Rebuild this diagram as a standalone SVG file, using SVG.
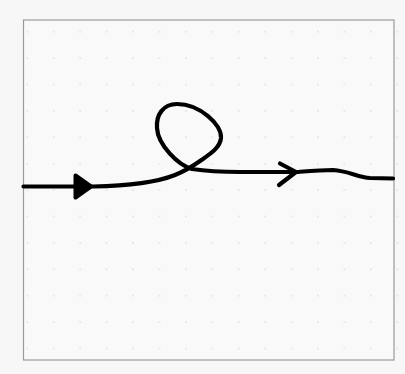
<svg xmlns="http://www.w3.org/2000/svg" width="405" height="374" viewBox="0 0 405 374">
  <defs>
    <pattern id="dots" x="0" y="0" width="26.43" height="26.4" patternUnits="userSpaceOnUse" patternTransform="translate(27.3,31.7)">
      <circle cx="0" cy="0" r="0.8" fill="#d2d2d2"/>
      <circle cx="26.43" cy="0" r="0.8" fill="#d2d2d2"/>
      <circle cx="0" cy="26.4" r="0.8" fill="#d2d2d2"/>
      <circle cx="26.43" cy="26.4" r="0.8" fill="#d2d2d2"/>
    </pattern>
    <style>
      .ink { fill: none; stroke: #000; stroke-width: 4.2; stroke-linecap: round; stroke-linejoin: round; }
      .head { fill: #000; stroke: #000; stroke-width: 4; stroke-linejoin: round; }
    </style>
  </defs>
  <rect x="0" y="0" width="405" height="374" fill="#f7f7f7"/>
  <rect id="frame" x="23.5" y="20" width="370.5" height="340" fill="#f9f9f9" stroke="#9a9a9a" stroke-width="1.2"/>
  <rect x="20" y="25" width="385" height="330" fill="url(#dots)"/>
  <g id="connectors">
    <path class="ink" d="M23.5,186.5 L93,186.5 C120,186 155,183 175,175 C185,171 193,166 200,161 C210,154 220,148 221,138 C222,125 200,104 177,104 C163,104 156,115 157,128 C158,145 178,165 192,169 C205,171 220,172 240,172 L297,172 C310,171 322,170 333,170 C348,171 358,177 370,178 L393,178.5"/>
    <polygon class="head" points="75.5,175.5 91,186.5 75.5,197.5"/>
    <polyline class="ink" stroke-width="3.2" points="280,163.5 296,172 279,185"/>
  </g>
</svg>
